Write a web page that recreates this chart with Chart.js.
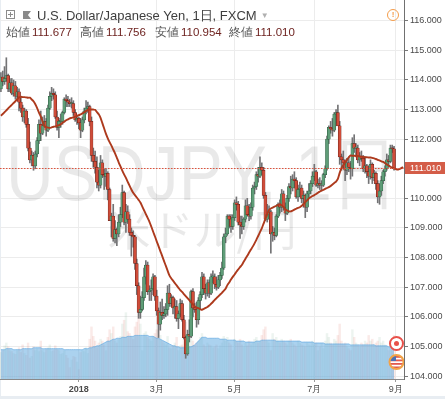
<!DOCTYPE html>
<html>
<head>
<meta charset="utf-8">
<script src="https://cdn.jsdelivr.net/npm/chart.js@4.4.0/dist/chart.umd.min.js"></script>
<style>
  html, body { margin: 0; padding: 0; background: #e8edf2; }
  #wrap { position: relative; width: 445px; height: 399px; overflow: hidden; background: #e8edf2;
          font-family: "Liberation Sans", Arial, sans-serif; }
  #paper { position: absolute; left: 1px; top: 0; width: 444px; height: 396px; background: #fff; }
  canvas { position: absolute; left: 0; top: 0; }
  .abs { position: absolute; white-space: nowrap; }
  #plus { left: 6px; top: 10px; width: 7px; height: 7px; border: 1px solid #8c8c8c; }
  #plus:before { content: ""; position: absolute; left: 1px; top: 3px; width: 5px; height: 1px; background: #8c8c8c; }
  #plus:after { content: ""; position: absolute; left: 3px; top: 1px; width: 1px; height: 5px; background: #8c8c8c; }
  #flag { left: 23px; top: 11px; width: 8px; height: 8px; background: #8a8a8a;
          clip-path: polygon(0 0, 100% 0, 62% 50%, 100% 100%, 0 100%); }
  #title { left: 37px; top: 8px; font-size: 13px; line-height: 15px; color: #3e3e3e; }
  #caret { font-size: 8px; color: #b0b0b0; margin-left: 4px; position: relative; top: -2px; }
  .lab { top: 25px; font-size: 11.5px; line-height: 14px; color: #555; }
  .val { top: 25px; font-size: 11.5px; line-height: 14px; color: #6e2320; }
  #warn { left: 387px; top: 9px; width: 10px; height: 10px; border: 1px solid #f39c4a; border-radius: 50%;
          color: #f39c4a; font-size: 8px; line-height: 10px; text-align: center; font-weight: bold; }
</style>
</head>
<body>
<div id="wrap">
  <div id="paper"></div>
  <canvas id="myChart" width="445" height="399"></canvas>
  <div class="abs" id="plus"></div>
  <div class="abs" id="flag"></div>
  <div class="abs" id="title">U.S. Dollar/Japanese Yen, 1日, FXCM<span id="caret">▼</span></div>
  <div class="abs lab" style="left:6px">始値</div><div class="abs val" style="left:32px">111.677</div>
  <div class="abs lab" style="left:80px">高値</div><div class="abs val" style="left:106px">111.756</div>
  <div class="abs lab" style="left:155px">安値</div><div class="abs val" style="left:181px">110.954</div>
  <div class="abs lab" style="left:229px">終値</div><div class="abs val" style="left:255px">111.010</div>
  <div class="abs" id="warn">!</div>
</div>
<script>
// daily USD/JPY candles, 2017-11-01 .. 2018-08-31 (weekdays)
const opens = [
  113.70,114.10,113.95,114.05,114.15,113.70,113.90,113.55,113.80,113.45,113.60,113.25,113.05,112.75,112.95,112.50,111.70,111.30,111.45,111.10,111.50,111.95,
  112.50,112.20,112.45,112.60,112.30,113.05,113.45,113.55,113.50,112.75,112.40,112.60,112.60,112.90,113.35,113.30,113.25,113.20,113.20,112.90,112.65,
  112.70,112.55,112.30,112.65,112.95,113.05,113.10,112.60,111.45,111.25,111.05,110.55,110.45,111.20,110.80,110.75,110.85,110.30,109.25,109.40,108.65,108.95,108.80,
  109.20,109.45,110.20,109.20,109.55,109.30,108.85,108.75,108.70,107.80,107.05,106.15,106.25,106.65,107.35,107.75,106.85,106.90,106.95,107.35,
  106.70,106.20,105.75,106.15,106.05,106.10,106.25,106.80,106.45,106.65,106.30,106.35,105.95,106.10,106.45,105.90,105.30,104.75,105.40,105.35,106.85,106.30,
  106.25,105.90,106.55,106.75,107.35,106.95,106.80,107.15,106.80,107.35,107.35,107.10,107.00,107.25,107.40,107.65,108.70,108.80,109.40,109.30,109.05,
  109.35,109.85,109.80,109.20,109.10,109.05,109.30,109.75,109.45,109.40,109.70,110.35,110.40,110.80,110.75,111.05,110.95,110.10,109.30,109.45,109.55,108.80,108.85,
  108.75,109.40,109.80,109.70,110.15,109.70,109.50,110.00,110.40,110.35,110.65,110.60,110.05,110.30,110.35,110.00,110.10,109.70,110.15,110.25,110.50,
  110.75,110.90,110.45,110.50,110.45,110.45,110.80,111.00,112.00,112.40,112.35,112.30,112.85,112.90,112.45,111.40,111.30,111.20,110.95,111.20,111.05,111.00,
  111.85,111.70,111.70,111.30,111.40,111.35,111.00,111.10,110.90,110.75,111.15,110.70,110.85,110.50,110.05,110.25,110.60,110.90,111.00,111.30,111.25,111.70,111.677
];
const highs = [
  114.25,114.30,114.45,114.75,114.20,114.05,114.05,114.00,113.95,113.75,113.70,113.40,113.15,113.05,113.00,112.70,111.90,111.60,111.55,111.60,112.05,112.65,
  112.95,112.75,112.80,112.70,113.15,113.60,113.75,113.70,113.60,112.95,112.70,112.85,112.95,113.40,113.50,113.45,113.35,113.40,113.30,113.00,112.80,
  112.75,112.70,112.75,113.05,113.30,113.25,113.15,112.75,111.70,111.60,111.40,110.95,111.45,111.30,111.00,111.00,110.90,110.35,109.50,109.80,109.25,109.00,109.45,
  109.70,110.45,110.25,109.80,109.75,109.45,109.00,108.90,108.75,107.95,107.15,106.70,106.85,107.65,107.90,107.85,107.05,107.25,107.45,107.40,
  106.90,106.30,106.50,106.60,106.35,106.45,107.05,107.10,106.75,106.70,106.60,106.55,106.20,106.60,106.55,106.05,105.35,105.55,105.90,106.90,106.95,106.45,
  106.50,106.65,106.85,107.50,107.45,107.10,107.25,107.25,107.45,107.55,107.45,107.35,107.40,107.50,107.85,108.80,109.00,109.45,109.45,109.45,109.45,
  109.95,110.05,109.90,109.40,109.40,109.35,109.95,110.00,109.80,109.85,110.45,110.55,110.90,111.05,111.40,111.20,111.05,110.20,109.80,109.75,109.60,109.05,109.00,
  109.45,109.85,109.95,110.30,110.25,109.85,110.10,110.50,110.75,110.80,110.90,110.70,110.45,110.55,110.45,110.25,110.15,110.25,110.50,110.60,110.90,
  111.15,110.95,110.65,110.70,110.60,110.85,111.10,112.10,112.45,112.60,112.70,112.90,113.00,113.15,112.60,111.50,111.60,111.30,111.35,111.40,111.25,112.05,
  112.15,111.85,111.80,111.55,111.60,111.45,111.40,111.15,111.10,111.30,111.20,110.95,110.90,110.60,110.50,110.75,110.95,111.10,111.50,111.45,111.80,111.80,111.756
];
const lows = [
  113.60,113.80,113.85,113.95,113.60,113.60,113.50,113.45,113.35,113.30,112.95,112.90,112.60,112.55,112.40,111.60,111.20,111.10,110.95,111.00,111.40,111.85,
  111.95,112.15,112.40,112.10,112.25,113.00,113.30,113.35,112.70,112.30,112.05,112.40,112.50,112.85,113.10,113.10,113.10,113.05,112.80,112.60,112.50,
  112.35,112.05,112.25,112.55,112.85,112.90,112.45,111.25,111.05,110.85,110.35,110.25,110.35,110.70,110.30,110.40,109.95,109.25,108.70,108.55,108.50,108.40,108.70,
  109.05,109.35,109.10,108.85,109.15,108.75,108.05,108.35,107.60,106.75,105.95,105.95,106.20,106.55,107.10,106.75,106.55,106.55,106.75,106.55,
  106.05,105.30,105.55,105.90,105.95,106.00,106.05,106.35,106.35,106.10,105.95,105.85,105.60,106.00,105.85,105.25,104.60,104.70,105.15,105.30,106.00,106.15,
  105.65,105.75,106.25,106.65,106.75,106.60,106.70,106.65,106.75,107.15,106.95,106.90,106.95,107.05,107.30,107.60,108.50,108.75,109.00,108.85,108.95,
  109.25,109.60,109.10,108.65,108.80,108.95,109.20,109.40,109.25,109.30,109.60,110.15,110.30,110.55,110.70,110.80,110.00,109.25,109.20,109.30,108.15,108.55,108.60,
  108.70,109.35,109.50,109.55,109.60,109.25,109.45,109.90,110.15,110.25,110.35,110.00,109.90,110.05,109.85,109.70,109.35,109.55,110.05,110.15,110.40,
  110.60,110.40,110.35,110.30,110.25,110.40,110.70,110.95,111.85,112.20,112.10,112.25,112.55,112.55,111.15,110.95,111.00,110.60,110.80,110.90,110.65,110.75,
  111.55,111.40,111.20,111.10,111.25,110.90,110.85,110.70,110.50,110.65,110.50,110.60,110.30,109.85,109.80,110.10,110.50,110.75,110.95,111.05,111.20,111.55,110.954
];
const closes = [
  114.10,113.95,114.05,114.15,113.70,113.90,113.55,113.80,113.45,113.60,113.25,113.05,112.75,112.95,112.50,111.70,111.30,111.45,111.10,111.50,111.95,112.50,
  112.20,112.45,112.60,112.30,113.05,113.45,113.55,113.50,112.75,112.40,112.60,112.60,112.90,113.35,113.30,113.25,113.20,113.20,112.90,112.65,112.70,
  112.55,112.30,112.65,112.95,113.05,113.10,112.60,111.45,111.25,111.05,110.55,110.45,111.20,110.80,110.75,110.85,110.30,109.25,109.40,108.65,108.95,108.80,109.20,
  109.45,110.20,109.20,109.55,109.30,108.85,108.75,108.70,107.80,107.05,106.15,106.25,106.65,107.35,107.75,106.85,106.90,106.95,107.35,106.70,
  106.20,105.75,106.15,106.05,106.10,106.25,106.80,106.45,106.65,106.30,106.35,105.95,106.10,106.45,105.90,105.30,104.75,105.40,105.35,106.85,106.30,106.25,
  105.90,106.55,106.75,107.35,106.95,106.80,107.15,106.80,107.35,107.35,107.10,107.00,107.25,107.40,107.65,108.70,108.80,109.40,109.30,109.05,109.35,
  109.85,109.80,109.20,109.10,109.05,109.30,109.75,109.45,109.40,109.70,110.35,110.40,110.80,110.75,111.05,110.95,110.10,109.30,109.45,109.55,108.80,108.85,108.75,
  109.40,109.80,109.70,110.15,109.70,109.50,110.00,110.40,110.35,110.65,110.60,110.05,110.30,110.35,110.00,110.10,109.70,110.15,110.25,110.50,110.75,
  110.90,110.45,110.50,110.45,110.45,110.80,111.00,112.00,112.40,112.35,112.30,112.85,112.90,112.45,111.40,111.30,111.20,110.95,111.20,111.05,111.00,111.85,
  111.70,111.70,111.30,111.40,111.35,111.00,111.10,110.90,110.75,111.15,110.70,110.85,110.50,110.05,110.25,110.60,110.90,111.00,111.30,111.25,111.70,111.677,111.010
];
// moving average as drawn (runs a few days past the last candle)
const maLine = [
  112.79,112.85,112.91,112.97,113.04,113.10,113.16,113.22,113.28,113.35,113.41,113.43,113.42,113.42,113.41,113.40,113.40,113.34,113.28,113.18,
  113.05,112.90,112.77,112.60,112.44,112.41,112.39,112.38,112.40,112.42,112.43,112.45,112.47,112.50,112.55,112.59,112.64,112.67,112.70,112.72,
  112.74,112.76,112.79,112.81,112.84,112.87,112.91,112.95,112.99,113.00,113.00,113.00,112.99,112.91,112.84,112.72,112.54,112.36,112.18,112.03,
  111.90,111.78,111.65,111.52,111.37,111.22,111.08,110.94,110.81,110.69,110.56,110.43,110.30,110.19,110.11,110.03,109.95,109.86,109.73,109.60,
  109.47,109.34,109.21,109.05,108.88,108.72,108.55,108.39,108.22,108.06,107.89,107.73,107.56,107.40,107.30,107.22,107.14,107.06,106.98,106.90,
  106.84,106.77,106.70,106.63,106.56,106.49,106.42,106.35,106.31,106.29,106.26,106.24,106.27,106.30,106.33,106.38,106.44,106.50,106.57,106.63,
  106.69,106.75,106.81,106.88,106.95,107.07,107.16,107.26,107.35,107.43,107.52,107.60,107.68,107.75,107.86,107.96,108.06,108.17,108.27,108.37,
  108.48,108.60,108.73,108.86,108.99,109.15,109.31,109.46,109.61,109.66,109.69,109.72,109.75,109.78,109.80,109.76,109.71,109.63,109.59,109.56,
  109.56,109.59,109.62,109.65,109.68,109.70,109.75,109.81,109.87,109.93,110.00,110.04,110.08,110.11,110.15,110.19,110.23,110.26,110.29,110.32,
  110.35,110.38,110.42,110.47,110.52,110.57,110.66,110.86,111.02,111.12,111.21,111.30,111.39,111.45,111.44,111.44,111.43,111.43,111.42,111.41,
  111.40,111.39,111.39,111.38,111.38,111.37,111.35,111.33,111.30,111.28,111.25,111.23,111.19,111.15,111.11,111.07,111.04,111.01,110.99,110.97,
  110.99,111.02,111.06
];
// volume (thousand ticks) and its moving average
const volume = [
  28,30,35,38,34,30,29,27,26,30,33,28,36,27,25,38,22,24,34,30,32,29,
  40,30,28,31,33,36,29,30,35,31,30,26,27,30,25,22,12,20,24,23,18,
  10,28,30,29,33,27,42,55,45,40,33,38,42,40,36,30,44,52,48,55,40,38,42,
  45,58,62,70,50,48,45,42,55,60,72,58,30,48,50,44,42,40,45,48,
  52,66,46,40,38,36,45,33,32,35,38,44,30,35,36,42,60,38,34,55,40,36,
  38,40,44,48,36,34,38,36,35,33,34,36,32,35,38,45,40,44,38,36,30,
  42,40,38,42,36,34,38,35,40,36,38,42,44,38,40,46,52,55,40,38,30,48,42,
  44,40,38,42,40,38,36,40,42,38,36,34,40,38,36,35,34,38,36,35,40,
  36,38,30,34,38,32,40,48,44,38,36,42,40,46,58,40,36,38,34,32,30,52,
  44,38,36,34,38,36,40,38,46,40,42,36,38,40,44,38,40,36,34,30,36,40,46
];
const volumeMA = [
  31,31,31,32,32,32,32,31,31,31,31,31,32,32,32,32,32,32,33,33,33,33,
  33,32,32,32,32,32,32,32,32,32,32,32,32,31,31,31,31,31,31,31,31,
  31,31,31,32,32,32,33,33,34,34,35,35,36,37,38,39,40,40,41,42,42,43,43,
  43,44,44,44,45,45,45,45,46,46,46,46,46,46,46,46,45,45,45,44,
  43,43,42,41,40,39,38,37,36,35,35,34,34,33,33,33,33,33,34,34,35,36,
  38,40,42,44,44,44,43,43,43,43,43,43,43,42,42,42,42,41,41,41,41,
  41,40,40,40,40,40,39,39,39,39,39,39,40,40,40,41,41,41,41,41,41,41,41,
  40,40,40,40,40,40,40,40,40,40,40,40,40,40,39,39,39,39,39,39,39,
  38,38,38,38,38,38,37,37,37,37,37,37,37,37,37,37,37,37,37,37,36,36,
  36,36,36,36,36,36,36,36,36,36,36,36,35,35,35,35,35,35,35,34,34,34,34
];
const yTicks = [104, 105, 106, 107, 108, 109, 110, 111, 112, 113, 114, 115, 116];
const tickMonths = ['2018-01', '2018-03', '2018-05', '2018-07', '2018-09'];
const tickLabels = ['2018', '3月', '5月', '7月', '9月'];
const watermark = ['USDJPY, 1日', '米ドル/円'];
const lastPrice = 111.010;

// weekday labels, a few empty days after the last candle
const dates = [];
for (let t = Date.UTC(2017, 10, 1); dates.length < 223; t += 86400000) {
    const d = new Date(t);
    if (d.getUTCDay() !== 0 && d.getUTCDay() !== 6) dates.push(d.toISOString().slice(0, 10));
}
const tickIndex = tickMonths.map(function (m) { return dates.findIndex(function (d) { return d.slice(0, 7) === m; }); });

const up = opens.map(function (o, i) { return closes[i] >= o; });
const bodies = opens.map(function (o, i) { return [o, closes[i]]; });
const wicks = lows.map(function (l, i) { return [l, highs[i]]; });

const overlay = {
    id: 'overlay',
    beforeDatasetsDraw(chart) {
        const { ctx, chartArea: a } = chart;
        const cx = (a.left + a.right) / 2;
        ctx.save();
        ctx.beginPath();
        ctx.rect(a.left, a.top, a.right - a.left, a.bottom - a.top);
        ctx.clip();
        ctx.fillStyle = 'rgba(0,0,0,0.085)';
        ctx.textAlign = 'center';
        ctx.font = '78px "Liberation Sans", sans-serif';
        ctx.fillText(watermark[0], cx, 200, 392);
        ctx.font = '43px "Noto Sans CJK JP", sans-serif';
        ctx.fillText(watermark[1], cx, 246);
        ctx.restore();
    },
    afterDatasetsDraw(chart) {
        const { ctx, chartArea: a } = chart;
        const y = Math.round(chart.scales.y.getPixelForValue(lastPrice)) + 0.5;
        ctx.save();
        ctx.beginPath();
        ctx.rect(a.left, a.top, a.right - a.left, a.bottom - a.top);
        ctx.clip();
        ctx.strokeStyle = '#de523c';
        ctx.lineWidth = 1;
        ctx.setLineDash([1.5, 1.5]);
        ctx.beginPath();
        ctx.moveTo(a.left, y);
        ctx.lineTo(a.right, y);
        ctx.stroke();
        ctx.setLineDash([]);
        // event icon
        ctx.beginPath(); ctx.arc(396.5, 343.5, 6.5, 0, Math.PI * 2);
        ctx.fillStyle = '#fff'; ctx.fill();
        ctx.lineWidth = 2; ctx.strokeStyle = '#e8514a'; ctx.stroke();
        ctx.beginPath(); ctx.arc(396.5, 343.5, 2.5, 0, Math.PI * 2);
        ctx.fillStyle = '#e8514a'; ctx.fill();
        // flag icon
        ctx.beginPath(); ctx.arc(396.5, 362, 7, 0, Math.PI * 2);
        ctx.fillStyle = '#fff'; ctx.fill();
        ctx.save(); ctx.clip();
        ctx.fillStyle = '#e05a4f';
        for (let k = 0; k < 4; k++) ctx.fillRect(389, 356 + k * 3.5, 15, 1.8);
        ctx.fillStyle = '#4a6fb5'; ctx.fillRect(389, 355, 7, 6);
        ctx.restore();
        ctx.lineWidth = 2; ctx.strokeStyle = '#f2a347';
        ctx.beginPath(); ctx.arc(396.5, 362, 7, 0, Math.PI * 2); ctx.stroke();
        ctx.restore();
    },
    afterDraw(chart) {
        const { ctx, chartArea: a } = chart;
        const y = chart.scales.y.getPixelForValue(lastPrice);
        ctx.save();
        ctx.fillStyle = '#d45d48';
        ctx.fillRect(a.right + 1, Math.round(y) - 6, 40, 12);
        ctx.fillStyle = '#fff';
        ctx.font = '9px "Liberation Sans", sans-serif';
        ctx.textBaseline = 'middle';
        ctx.fillText(lastPrice.toFixed(3), a.right + 6, Math.round(y) + 0.5);
        ctx.restore();
    }
};

Chart.defaults.font.family = '"Liberation Sans", Arial, sans-serif';

new Chart(document.getElementById('myChart'), {
    type: 'bar',
    data: {
        labels: dates,
        datasets: [{
            type: 'line',
            data: maLine,
            borderColor: '#ad3a1d',
            borderWidth: 1.9,
            pointRadius: 0,
            tension: 0.3,
            order: 0
        }, {
            data: bodies,
            backgroundColor: up.map(function (u) { return u ? '#5f9d78' : '#cf4c39'; }),
            borderColor: up.map(function (u) { return u ? '#2a5a3d' : '#5b1a13'; }),
            borderWidth: 0.5,
            borderSkipped: false,
            barThickness: 3,
            minBarLength: 1,
            grouped: false,
            order: 1
        }, {
            data: wicks,
            backgroundColor: '#737375',
            barThickness: 1,
            grouped: false,
            order: 2
        }, {
            type: 'line',
            yAxisID: 'yv',
            data: volumeMA,
            fill: 'origin',
            backgroundColor: 'rgba(110,178,228,0.58)',
            borderColor: 'rgba(100,170,225,0.7)',
            borderWidth: 1,
            pointRadius: 0,
            tension: 0.3,
            order: 3
        }, {
            yAxisID: 'yv',
            data: volume,
            backgroundColor: up.map(function (u) { return u ? 'rgba(107,165,131,0.12)' : 'rgba(215,84,66,0.12)'; }),
            barPercentage: 1,
            categoryPercentage: 1,
            grouped: false,
            order: 4
        }]
    },
    options: {
        responsive: false,
        animation: false,
        layout: { padding: 0 },
        plugins: { legend: { display: false }, tooltip: { enabled: false } },
        scales: {
            x: {
                type: 'category',
                offset: true,
                afterBuildTicks: function (s) {
                    s.ticks = tickIndex.map(function (i) { return { value: i }; });
                },
                afterFit: function (s) { s.height = 20; s.paddingLeft = 0; s.paddingRight = 0; },
                grid: { offset: false, color: '#ececec', tickColor: '#9a9a9a', tickLength: 3 },
                border: { color: '#8a8a8a' },
                ticks: {
                    autoSkip: false,
                    maxRotation: 0,
                    padding: 2,
                    color: '#4a4a4a',
                    font: function (c) {
                        return { size: 9, weight: c.tick && c.tick.value === tickIndex[0] ? 'bold' : 'normal' };
                    },
                    callback: function (v) { return tickLabels[tickIndex.indexOf(v)]; }
                }
            },
            y: {
                position: 'right',
                min: 103.9,
                max: 116.7,
                afterBuildTicks: function (s) {
                    s.ticks = yTicks.map(function (v) { return { value: v }; });
                },
                afterFit: function (s) { s.width = 41; s.paddingTop = 0; s.paddingBottom = 0; },
                grid: { color: '#ececec', tickColor: '#7a7a7a', tickLength: 4 },
                border: { color: '#707070' },
                ticks: {
                    padding: 2,
                    color: '#4a4a4a',
                    font: { size: 9 },
                    callback: function (v) { return Number(v).toFixed(3); }
                }
            },
            yv: {
                display: false,
                min: 0,
                max: 400
            }
        }
    },
    plugins: [overlay]
});
</script>
</body>
</html>
